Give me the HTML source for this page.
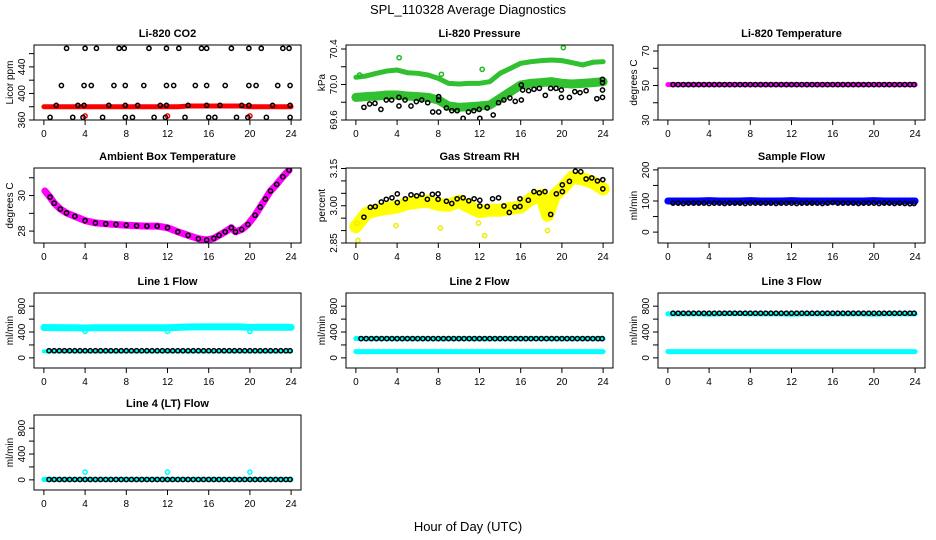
<!DOCTYPE html>
<html><head><meta charset="utf-8"><style>
html,body{margin:0;padding:0;background:#fff;}
svg{display:block;font-family:"Liberation Sans",sans-serif;}
</style></head><body>
<svg id="chart" width="936" height="540" viewBox="0 0 936 540">
<text x="468" y="14" text-anchor="middle" font-size="13">SPL_110328  Average Diagnostics</text>
<text x="468" y="531" text-anchor="middle" font-size="13">Hour of Day (UTC)</text>
</svg>
<script>
// ---- shared data ----
const xTicks=[0,4,8,12,16,20,24];
const hourly=[0,1,2,3,4,5,6,7,8,9,10,11,12,13,14,15,16,17,18,19,20,21,22,23,24];
const halfHours=[0.5,1,1.5,2,2.5,3,3.5,4,4.5,5,5.5,6,6.5,7,7.5,8,8.5,9,9.5,10,10.5,11,11.5,12,12.5,13,13.5,14,14.5,15,15.5,16,16.5,17,17.5,18,18.5,19,19.5,20,20.5,21,21.5,22,22.5,23,23.5,23.9];

// CO2
const co2Band=[380,380,380,380,380,380,380,380,380,380,380,380,380,380,381,381,381,381,381,381,380,380,380,380,380];
const co2BlackX=[2.2,4.0,5.1,7.3,7.8,10.2,11.9,13.1,15.3,15.8,18.2,19.9,21.1,23.2,23.8,
1.7,3.9,4.6,6.8,7.9,9.7,11.9,12.6,14.7,15.8,17.6,19.9,20.6,22.7,23.9,
1.2,3.3,3.9,6.3,7.9,9.1,11.3,11.9,14.0,15.8,17.1,19.2,19.9,22.2,23.9,
0.6,2.8,3.8,5.7,7.9,8.6,10.7,11.8,13.7,16.0,16.6,18.7,19.8,21.6,23.9];
const co2BlackY=[468,468,468,468,468,468,468,468,468,468,468,468,468,468,468,
412,412,412,412,412,412,412,412,412,412,412,412,412,412,412,
382,382,382,382,382,382,382,382,382,382,382,382,382,382,382,
364,364,364,364,364,364,364,364,364,364,364,364,364,364,364];
const co2RedX=[4,12,20];
const co2RedY=[366,366,366];

// Pressure
const presUpper=[70.081,70.096,70.126,70.152,70.163,70.133,70.126,70.107,70.069,70.013,70.006,70.013,70.013,70.032,70.126,70.182,70.239,70.257,70.269,70.276,70.269,70.246,70.220,70.250,70.257];
const presLower=[69.855,69.863,69.870,69.882,69.882,69.870,69.863,69.855,69.825,69.758,69.743,69.750,69.758,69.769,69.844,69.919,69.994,70.013,70.021,70.032,70.013,70.006,70.013,70.021,70.032];
const presGreenX=[4.2,12.26,20.14,0.36,8.3];
const presGreenY=[70.302,70.171,70.415,70.107,70.115];
const presBlackX=[0.78,1.33,1.85,2.43,2.95,3.47,4.18,4.18,4.77,5.35,5.87,6.39,6.97,7.46,8.04,8.04,8.04,8.79,9.31,9.83,10.41,10.93,11.45,11.97,12.03,12.75,13.33,13.85,14.37,14.95,15.47,16.06,16.06,16.19,16.77,17.29,17.81,18.39,18.91,19.43,19.95,19.95,20.73,21.25,21.76,22.35,23.39,23.94,23.94,23.94,23.94];
const presBlackY=[69.743,69.780,69.788,69.720,69.825,69.825,69.758,69.855,69.825,69.758,69.807,69.825,69.795,69.690,69.690,69.863,69.825,69.735,69.705,69.705,69.619,69.690,69.705,69.720,69.619,69.735,69.656,69.795,69.825,69.848,69.810,69.825,69.994,69.938,69.930,69.946,69.957,69.878,69.957,69.957,69.855,69.938,69.855,69.919,69.908,69.930,69.840,69.855,69.938,70.058,70.021];

// Li-820 temperature
const t820Band=[50.5,50.5,50.5,50.5,50.5,50.5,50.5,50.5,50.5,50.5,50.5,50.5,50.5,50.5,50.5,50.5,50.5,50.5,50.5,50.5,50.5,50.5,50.5,50.5,50.5];
const t820Black=[50.5,50.5,50.5,50.5,50.5,50.5,50.5,50.5,50.5,50.5,50.5,50.5,50.5,50.5,50.5,50.5,50.5,50.5,50.5,50.5,50.5,50.5,50.5,50.5,50.5,50.5,50.5,50.5,50.5,50.5,50.5,50.5,50.5,50.5,50.5,50.5,50.5,50.5,50.5,50.5,50.5,50.5,50.5,50.5,50.5,50.5,50.5,50.5];

// Ambient box temperature
const ambX=[0.1,0.6,1,1.6,2.2,3,4,5,6,7,8,9,10,11,12,13,14,15,15.8,16.5,17,17.6,18.2,18.6,19.2,19.8,20.5,21,21.5,22,22.6,23.2,23.8];
const ambY=[30.26,29.91,29.57,29.24,29.02,28.83,28.59,28.46,28.41,28.37,28.33,28.30,28.28,28.28,28.19,27.96,27.76,27.57,27.50,27.59,27.76,27.96,28.19,27.96,28.09,28.37,28.89,29.35,29.80,30.26,30.63,31.06,31.43];

// Gas stream RH
const rhBandX=[0,1,2,3,4,5,6,7,8,9,10,11,12,13,14,15,16,17,18,18.6,19.3,20,21,22,23,24];
const rhBandY=[2.916,2.969,2.982,2.989,2.995,3.009,3.015,3.018,3.005,3.002,3.018,2.995,2.976,2.982,2.982,2.989,2.995,3.028,3.042,2.962,3.042,3.068,3.114,3.108,3.094,3.068];
const rhYellowX=[0.2,3.9,8.2,12.5,18.6,11.9,0.1];
const rhYellowY=[2.86,2.92,2.91,2.88,2.90,2.93,2.93];
const rhBlackX=[0.78,1.4,1.88,2.47,2.95,3.5,4.02,4.02,4.8,5.35,5.9,6.42,6.94,7.43,7.98,7.98,8.79,9.31,9.83,10.41,10.96,11.48,12.03,12.03,12.75,13.27,13.85,14.37,14.89,15.44,15.93,15.93,16.74,17.29,17.81,18.36,18.91,19.46,20.04,20.04,20.73,21.31,21.83,22.35,22.9,23.45,23.97,23.97];
const rhBlackY=[2.954,2.994,2.997,3.015,3.026,3.032,3.048,3.013,3.028,3.044,3.040,3.046,3.026,3.046,3.048,3.026,3.018,3.009,3.028,3.032,3.020,3.028,2.999,3.022,2.997,3.028,3.032,2.999,2.973,2.995,2.997,3.028,3.022,3.057,3.052,3.057,2.965,3.048,3.057,3.084,3.098,3.139,3.137,3.108,3.112,3.100,3.105,3.068];

// Sample flow
const sampleBand=[100,100,100,100,101,100,100,100,101,100,100,100,101,100,100,100,100,100,100,100,101,100,100,100,100];
const sampleBlack=[93,93,92,93,93,93,93,92,93,93,92,93,93,93,92,93,93,93,93,93,92,93,93,93,92,93,93,93,93,92,93,95,93,93,93,93,92,93,93,93,92,93,93,92,93,92,91,92];

// Line flows
const line1Upper=[470,468,466,466,462,466,466,466,466,466,466,466,466,472,478,480,480,480,480,480,472,474,474,474,472];
const line1Lower=[100,100,100,100,100,100,100,100,100,100,100,100,100,100,100,100,100,100,100,100,100,100,100,100,100];
const line1Black=[110,110,110,110,110,110,110,110,110,110,110,110,110,110,110,110,110,110,110,110,110,110,110,110,110,110,110,110,110,110,110,110,110,110,110,110,110,110,110,110,110,110,110,110,110,110,110,110];
const line1CyanX=[4,12,20];
const line1CyanY=[410,410,410];
const line2Cyan=[96,96,96,96,96,96,96,96,96,96,96,96,96,96,96,96,96,96,96,96,96,96,96,96,96];
const line2Upper=[300,298,298,298,296,298,298,298,296,298,298,298,296,298,298,298,298,298,298,298,296,298,298,298,298];
const line2Black=[298,298,298,298,298,298,298,298,298,298,298,298,298,298,298,298,298,298,298,298,298,298,298,298,298,298,298,298,298,298,298,298,298,298,298,298,298,298,298,298,298,298,298,298,298,298,298,298];
const line3Cyan=[96,96,96,96,96,96,96,96,96,96,96,96,96,96,96,96,96,96,96,96,96,96,96,96,96];
const line3Upper=[680,680,680,680,676,680,684,684,680,680,680,680,676,680,680,680,680,680,680,680,676,680,680,680,680];
const line3Black=[690,690,690,690,690,690,690,690,690,690,690,690,690,690,690,690,690,690,690,690,690,690,690,690,690,690,690,690,690,690,690,690,690,690,690,690,690,690,690,690,690,690,690,690,690,690,690,690];
const line4Cyan=[5,5,5,5,5,5,5,5,5,5,5,5,5,5,5,5,5,5,5,5,5,5,5,5,5];
const line4Black=[5,5,5,5,5,5,5,5,5,5,5,5,5,5,5,5,5,5,5,5,5,5,5,5,5,5,5,5,5,5,5,5,5,5,5,5,5,5,5,5,5,5,5,5,5,5,5,5];
const line4CyanX=[4,12,20];
const line4CyanY=[120,120,120];

// ---- drawing ----
const NS='http://www.w3.org/2000/svg';
const svg=document.getElementById('chart');
const W=267,H=75,XD=[-0.96,24.96];
function mk(tag,parent){const e=document.createElementNS(NS,tag);parent.appendChild(e);return e;}
let clipN=0;
function panel(name,title,left,top,yd,ticks,labels,ylab){
  const g=mk('g',svg);
  
  
  const sx=v=>left+(v-XD[0])/(XD[1]-XD[0])*W;
  const sy=v=>top+H-(v-yd[0])/(yd[1]-yd[0])*H;
  const t=mk('text',g);t.textContent=title;
  t.setAttribute('x',left+W/2);t.setAttribute('y',top-8);t.setAttribute('text-anchor','middle');
  t.setAttribute('font-size','11');t.setAttribute('font-weight','bold');
  
  
  const yl=mk('text',g);yl.textContent=ylab;
  yl.setAttribute('transform','translate('+(left-21)+','+(top+H/2)+') rotate(-90)');
  yl.setAttribute('text-anchor','middle');yl.setAttribute('font-size','10');
  
  
  xTicks.forEach(v=>{
    const l=mk('line',g);l.setAttribute('x1',sx(v));l.setAttribute('x2',sx(v));
    l.setAttribute('y1',top+H);l.setAttribute('y2',top+H+5);l.setAttribute('stroke','#000');
    
    
    const tx=mk('text',g);tx.textContent=v;tx.setAttribute('x',sx(v));tx.setAttribute('y',top+H+17);
    tx.setAttribute('text-anchor','middle');tx.setAttribute('font-size','10');
    
    
  });
  ticks.forEach((v,i)=>{
    const l=mk('line',g);l.setAttribute('y1',sy(v));l.setAttribute('y2',sy(v));
    l.setAttribute('x1',left-5);l.setAttribute('x2',left);l.setAttribute('stroke','#000');
    
    
    if(labels[i]!==''){
      const tx=mk('text',g);tx.textContent=labels[i];
      tx.setAttribute('transform','translate('+(left-9)+','+sy(v)+') rotate(-90)');
      tx.setAttribute('text-anchor','middle');tx.setAttribute('font-size','10');
      
      
    }
  });
  const cid='clip'+(clipN++);
  const cp=mk('clipPath',g);cp.setAttribute('id',cid);
  const cr=mk('rect',cp);cr.setAttribute('x',left);cr.setAttribute('y',top);cr.setAttribute('width',W);cr.setAttribute('height',H);
  const plot=mk('g',g);plot.setAttribute('clip-path','url(#'+cid+')');
  
  
  const box=mk('rect',g);box.setAttribute('x',left);box.setAttribute('y',top);box.setAttribute('width',W);box.setAttribute('height',H);
  box.setAttribute('fill','none');box.setAttribute('stroke','#000');
  
  
  return {
    band(xs,ys,color,w,nm){
      const p=mk('polyline',plot);
      p.setAttribute('points',xs.map((x,i)=>sx(x)+','+sy(ys[i])).join(' '));
      p.setAttribute('fill','none');p.setAttribute('stroke',color);p.setAttribute('stroke-width',w);
      p.setAttribute('stroke-linejoin','round');p.setAttribute('stroke-linecap','round');
      
      
    },
    pts(xs,ys,color,nm){
      xs.forEach((x,i)=>{
        const c=mk('circle',plot);c.setAttribute('cx',sx(x));c.setAttribute('cy',sy(ys[i]));
        c.setAttribute('r',2.1);c.setAttribute('fill','none');c.setAttribute('stroke',color);c.setAttribute('stroke-width',1.5);
        
        
      });
    }
  };
}
const C1=34,C2=346,C3=658,R1=45,R2=168,R3=293,R4=415;
const flowTicks=[0,200,400,600,800],flowLabels=['0','','400','','800'],FD=[-157,1004];

let p=panel('co2','Li-820 CO2',C1,R1,[360,473],[360,380,400,420,440,460],['360','','400','','440',''],'Licor ppm');
p.band(hourly,co2Band,'#ff0000',5,'co2-red-band');
p.pts(co2RedX,co2RedY,'#ff0000','co2-red-point');
p.pts(co2BlackX,co2BlackY,'#000','co2-black-point');

p=panel('pressure','Li-820 Pressure',C2,R1,[69.6,70.445],[69.6,69.8,70.0,70.2,70.4],['69.6','','70.0','','70.4'],'kPa');
p.band(hourly,presUpper,'#30c030',5,'pressure-green-upper-band');
p.band(hourly,presLower,'#30c030',9,'pressure-green-lower-band');
p.pts(presGreenX,presGreenY,'#22bb22','pressure-green-point');
p.pts(presBlackX,presBlackY,'#000','pressure-black-point');

p=panel('li820-temp','Li-820 Temperature',C3,R1,[30,73.5],[30,40,50,60,70],['30','','50','','70'],'degrees C');
p.band(hourly,t820Band,'#ff00ff',5,'li820-temp-band');
p.pts(halfHours,t820Black,'#000','li820-temp-black-point');

p=panel('ambient','Ambient Box Temperature',C1,R2,[27.33,31.55],[28,29,30,31],['28','','30',''],'degrees C');
p.band(ambX,ambY,'#ff00ff',7,'ambient-band');
p.pts(ambX.slice(1),ambY.slice(1),'#000','ambient-black-point');

p=panel('gas-rh','Gas Stream RH',C2,R2,[2.85,3.152],[2.85,2.90,2.95,3.00,3.05,3.10,3.15],['2.85','','','3.00','','','3.15'],'percent');
p.band(rhBandX,rhBandY,'#ffff00',13,'gas-rh-yellow-band');
p.pts(rhYellowX,rhYellowY,'#eeee00','gas-rh-yellow-point');
p.pts(rhBlackX,rhBlackY,'#000','gas-rh-black-point');

p=panel('sample-flow','Sample Flow',C3,R2,[-35,206],[0,50,100,150,200],['0','','100','','200'],'ml/min');
p.band(hourly,sampleBand,'#0000ff',7,'sample-flow-band');
p.pts(halfHours,sampleBlack,'#000','sample-flow-black-point');

p=panel('line1','Line 1 Flow',C1,R3,FD,flowTicks,flowLabels,'ml/min');
p.band(hourly,line1Upper,'#00ffff',7,'line1-cyan-upper-band');
p.band(hourly,line1Lower,'#00ffff',4,'line1-cyan-lower-band');
p.pts(line1CyanX,line1CyanY,'#00ffff','line1-cyan-point');
p.pts(halfHours,line1Black,'#000','line1-black-point');

p=panel('line2','Line 2 Flow',C2,R3,FD,flowTicks,flowLabels,'ml/min');
p.band(hourly,line2Upper,'#00ffff',5,'line2-cyan-upper-band');
p.band(hourly,line2Cyan,'#00ffff',5,'line2-cyan-band');
p.pts(halfHours,line2Black,'#000','line2-black-point');

p=panel('line3','Line 3 Flow',C3,R3,FD,flowTicks,flowLabels,'ml/min');
p.band(hourly,line3Upper,'#00ffff',5,'line3-cyan-upper-band');
p.band(hourly,line3Cyan,'#00ffff',5,'line3-cyan-band');
p.pts(halfHours,line3Black,'#000','line3-black-point');

p=panel('line4','Line 4 (LT) Flow',C1,R4,FD,flowTicks,flowLabels,'ml/min');
p.band(hourly,line4Cyan,'#00ffff',5,'line4-cyan-band');
p.pts(line4CyanX,line4CyanY,'#00ffff','line4-cyan-point');
p.pts(halfHours,line4Black,'#000','line4-black-point');
</script>
</body></html>
